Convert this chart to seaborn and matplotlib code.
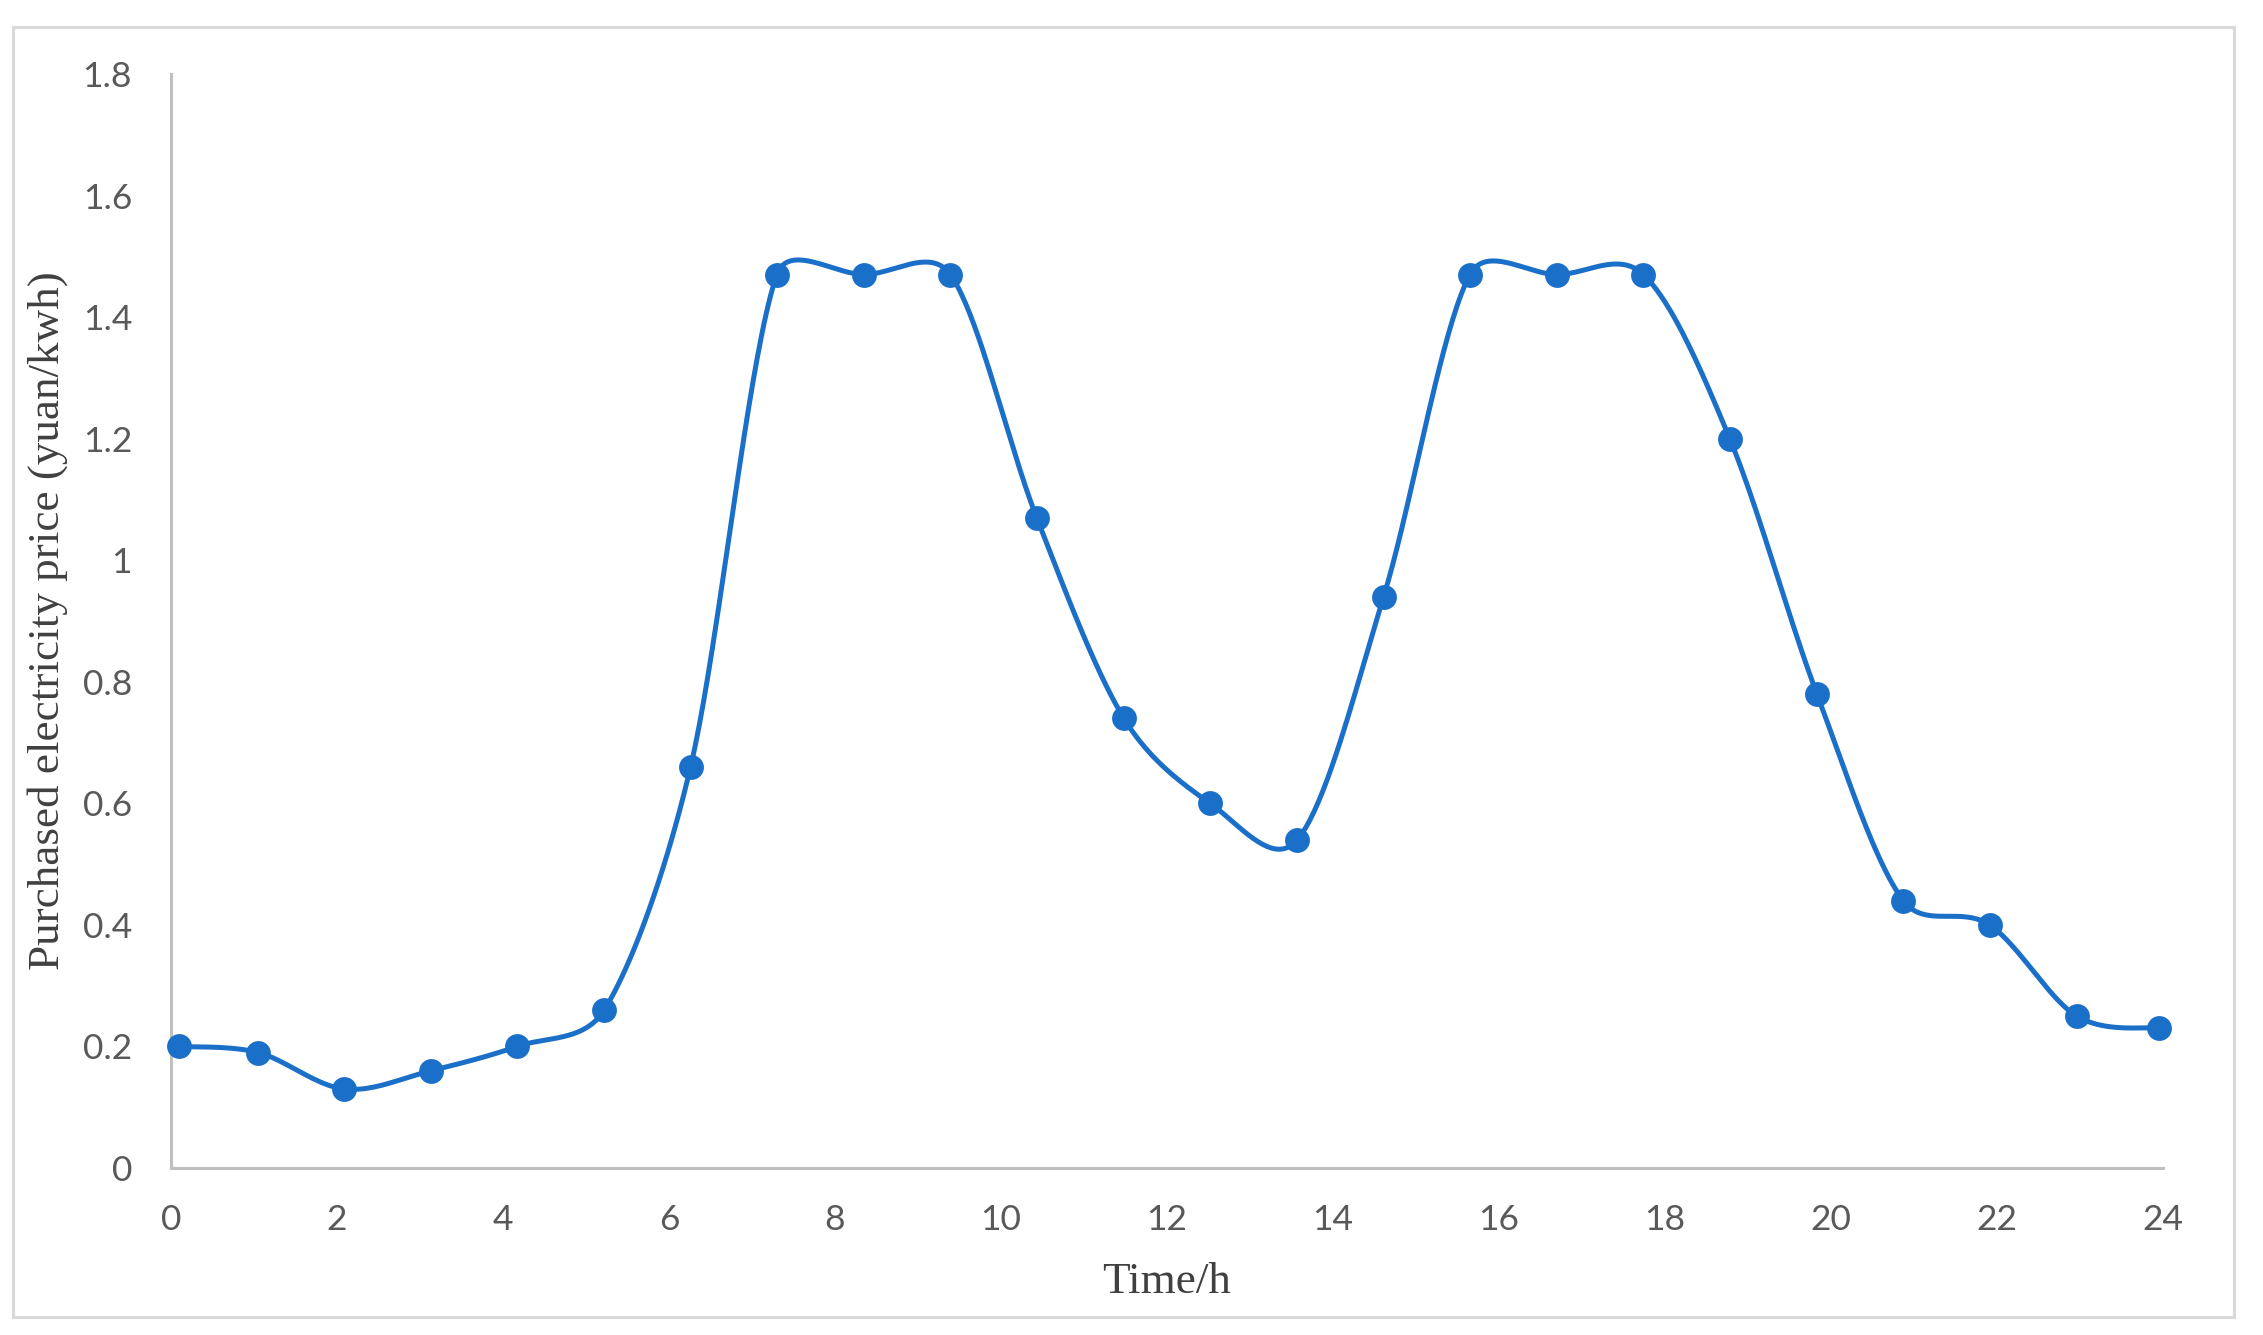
import numpy as np
import pandas as pd
import matplotlib
matplotlib.use("Agg")
import matplotlib.pyplot as plt
import seaborn as sns
from matplotlib.patches import Rectangle

# ---- data ----
hours = [0.10, 1.05, 2.09, 3.13, 4.17, 5.22, 6.26, 7.30, 8.35, 9.39, 10.43, 11.48,
         12.52, 13.57, 14.61, 15.65, 16.70, 17.74, 18.78, 19.83, 20.87, 21.91, 22.96, 23.95]
price = [0.20, 0.19, 0.13, 0.16, 0.20, 0.26, 0.66, 1.47, 1.47, 1.47, 1.07, 0.74,
         0.60, 0.54, 0.94, 1.47, 1.47, 1.47, 1.20, 0.78, 0.44, 0.40, 0.25, 0.23]
x_ticks = list(range(0, 25, 2))
y_ticks = [0, 0.2, 0.4, 0.6, 0.8, 1.0, 1.2, 1.4, 1.6, 1.8]
y_tick_labels = ['0', '0.2', '0.4', '0.6', '0.8', '1', '1.2', '1.4', '1.6', '1.8']
x_label = "Time/h"
y_label = "Purchased electricity price (yuan/kwh)"

W, H = 2263, 1335
AX_L, AX_R, AX_T, AX_B = 171, 2163, 74, 1168
XMAX, YMAX = 24, 1.8

# ---- smooth line (Excel-style Bezier through the points, in pixel space) ----
def _cap(v, limit):
    n = np.hypot(*v)
    return v * (limit / n) if n > limit and n > 0 else v

def smooth(xs, ys, kx, ky, f=1 / 6, cap=0.4, n=40):
    p = np.column_stack([np.asarray(xs) * kx, np.asarray(ys) * ky]).astype(float)
    m = len(p)
    out = []
    for i in range(m - 1):
        p0 = p[i - 1] if i > 0 else p[i]
        p1, p2 = p[i], p[i + 1]
        p3 = p[i + 2] if i + 2 < m else p[i + 1]
        d12 = np.hypot(*(p2 - p1))
        c1 = p1 + _cap((p2 - p0) * f, cap * d12)
        c2 = p2 - _cap((p3 - p1) * f, cap * d12)
        t = np.linspace(0, 1, n, endpoint=(i == m - 2))[:, None]
        seg = (1 - t) ** 3 * p1 + 3 * (1 - t) ** 2 * t * c1 + 3 * (1 - t) * t ** 2 * c2 + t ** 3 * p2
        out.append(seg)
    out = np.vstack(out)
    return out[:, 0] / kx, out[:, 1] / ky

kx = (AX_R - AX_L) / XMAX
ky = (AX_B - AX_T) / YMAX
sx, sy = smooth(hours, price, kx, ky)
curve = pd.DataFrame({"x": sx, "y": sy})
pts = pd.DataFrame({"x": hours, "y": price})

sns.set_theme(style="white")
plt.rcParams['font.family'] = ['Lato', 'DejaVu Sans']

fig = plt.figure(figsize=(W / 100, H / 100), dpi=100)
fig.patch.set_facecolor('white')

# outer light frame
fig.patches.append(Rectangle((13 / W, 1 - 1317 / H), (2234 - 13) / W, (1317 - 27) / H,
                             transform=fig.transFigure, fill=False,
                             edgecolor='#d9d9d9', linewidth=2.2))

ax = fig.add_axes([AX_L / W, 1 - AX_B / H, (AX_R - AX_L) / W, (AX_B - AX_T) / H])

blue = '#1a6fc8'
sns.lineplot(data=curve, x="x", y="y", ax=ax, sort=False, color=blue,
             linewidth=3.6, estimator=None)
sns.scatterplot(data=pts, x="x", y="y", ax=ax, color=blue, s=320,
                edgecolor=blue, linewidth=0, zorder=5, clip_on=False)
for ln in ax.lines:
    ln.set_clip_on(False)

ax.set_xlim(0, XMAX)
ax.set_ylim(0, YMAX)
ax.set_xticks(x_ticks)
ax.set_xticklabels([str(t) for t in x_ticks])
ax.set_yticks(y_ticks)
ax.set_yticklabels(y_tick_labels)

for s in ['top', 'right']:
    ax.spines[s].set_visible(False)
for s in ['left', 'bottom']:
    ax.spines[s].set_color('#bfbfbf')
    ax.spines[s].set_linewidth(2.2)

ax.tick_params(axis='both', direction='in', length=8, width=2.0, color='#bfbfbf',
               labelsize=25.5, labelcolor='#595959')
ax.tick_params(axis='x', pad=26)
ax.tick_params(axis='y', pad=28)

ax.set_xlabel(x_label, fontsize=32.5, color='#404040', family=['Liberation Serif'])
ax.set_ylabel(y_label, fontsize=32.5, color='#404040', family=['Liberation Serif'])
ax.xaxis.set_label_coords(0.5, -0.086)
ax.yaxis.set_label_coords(-0.0517, 0.5)

ax.grid(False)
fig.savefig("out.png", dpi=100, facecolor='white')
